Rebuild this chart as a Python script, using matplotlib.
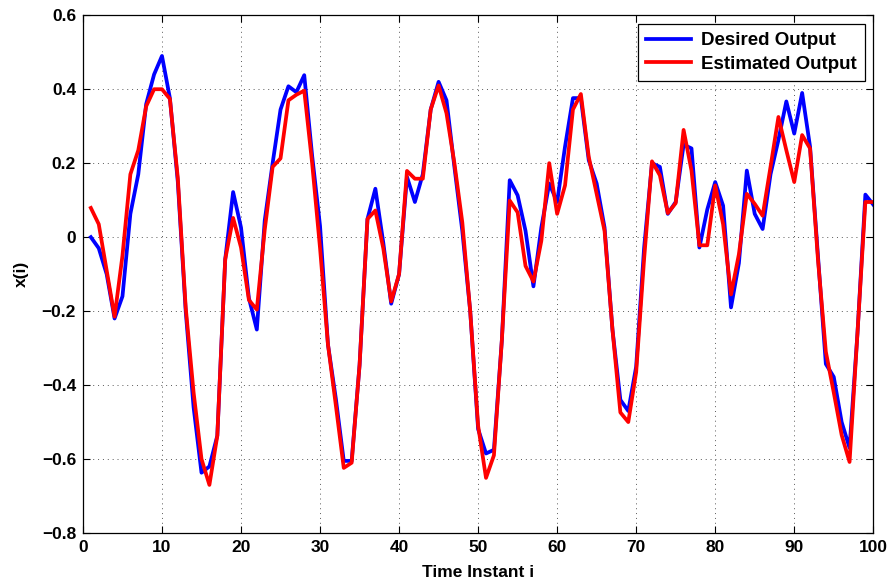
import numpy as np
import matplotlib.pyplot as plt

# ----- DATA -----
instants = np.arange(1, 101)

desired = [
    0.0, -0.03, -0.10, -0.22, -0.16, 0.063, 0.17, 0.36, 0.44, 0.49,
    0.376, 0.15, -0.20, -0.46, -0.637, -0.62, -0.537, -0.06, 0.122, 0.026,
    -0.165, -0.25, 0.045, 0.20, 0.345, 0.408, 0.392, 0.438, 0.22, 0.03,
    -0.29, -0.437, -0.605, -0.605, -0.346, 0.049, 0.131, -0.015, -0.18, -0.10,
    0.163, 0.095, 0.17, 0.345, 0.42, 0.37, 0.19, 0.017, -0.20, -0.519,
    -0.585, -0.575, -0.28, 0.154, 0.113, 0.017, -0.133, 0.026, 0.145, 0.095,
    0.245, 0.376, 0.376, 0.208, 0.145, 0.026, -0.25, -0.44, -0.47, -0.35,
    -0.03, 0.20, 0.19, 0.063, 0.095, 0.25, 0.24, -0.028, 0.075, 0.149,
    0.085, -0.19, -0.07, 0.18, 0.063, 0.022, 0.17, 0.263, 0.367, 0.28,
    0.39, 0.245, -0.05, -0.343, -0.378, -0.50, -0.57, -0.26, 0.115, 0.088,
]

estimated = [
    0.079, 0.035, -0.09, -0.215, -0.05, 0.17, 0.235, 0.354, 0.40, 0.40,
    0.374, 0.16, -0.19, -0.42, -0.60, -0.67, -0.537, -0.06, 0.052, -0.028,
    -0.17, -0.196, 0.02, 0.19, 0.213, 0.37, 0.385, 0.396, 0.20, -0.03,
    -0.29, -0.455, -0.624, -0.61, -0.346, 0.049, 0.072, -0.03, -0.174, -0.10,
    0.179, 0.158, 0.158, 0.345, 0.41, 0.335, 0.20, 0.04, -0.20, -0.51,
    -0.651, -0.59, -0.28, 0.099, 0.067, -0.078, -0.12, -0.01, 0.20, 0.063,
    0.14, 0.345, 0.387, 0.217, 0.117, 0.017, -0.25, -0.474, -0.50, -0.365,
    -0.06, 0.205, 0.167, 0.065, 0.092, 0.29, 0.18, -0.022, -0.022, 0.14,
    0.035, -0.155, -0.046, 0.117, 0.09, 0.058, 0.19, 0.325, 0.235, 0.149,
    0.276, 0.24, -0.06, -0.31, -0.42, -0.535, -0.608, -0.26, 0.095, 0.095,
]

x_ticks = [0, 10, 20, 30, 40, 50, 60, 70, 80, 90, 100]
y_ticks = [-0.8, -0.6, -0.4, -0.2, 0, 0.2, 0.4, 0.6]
y_tick_labels = ["\u22120.8", "\u22120.6", "\u22120.4", "\u22120.2", "0", "0.2", "0.4", "0.6"]

# ----- PLOT -----
plt.rcParams["font.family"] = ["Liberation Sans", "DejaVu Sans"]
plt.rcParams["font.weight"] = "bold"

fig = plt.figure(figsize=(8.92, 5.87), dpi=100)
ax = fig.add_axes([0.093, 0.092, 0.886, 0.882])

ax.plot(instants, desired, color="#0000ff", linewidth=2.7, label="Desired Output")
ax.plot(instants, estimated, color="#ff0000", linewidth=2.7, label="Estimated Output")

ax.set_xlim(0, 100)
ax.set_ylim(-0.8, 0.6)
ax.set_xticks(x_ticks)
ax.set_yticks(y_ticks)
ax.set_yticklabels(y_tick_labels)

ax.grid(True, color="0.35", linestyle=(0, (1, 4)), linewidth=0.7)
ax.tick_params(direction="in", top=True, right=True, length=5, width=0.8,
               labelsize=12.5, pad=5)
for lab in ax.get_xticklabels() + ax.get_yticklabels():
    lab.set_fontweight("bold")
for sp in ax.spines.values():
    sp.set_linewidth(0.9)

ax.set_xlabel("Time Instant i", fontsize=12.5, fontweight="bold", labelpad=7)
ax.set_ylabel("x(i)", fontsize=12.5, fontweight="bold", labelpad=9)

leg = ax.legend(loc="upper right", fancybox=False, framealpha=1, edgecolor="black",
                fontsize=13.5, handlelength=2.4, handletextpad=0.5,
                borderaxespad=0.45, labelspacing=0.35, borderpad=0.45)
for t in leg.get_texts():
    t.set_fontweight("bold")
leg.get_frame().set_linewidth(0.9)

fig.savefig("out.png", dpi=100)
